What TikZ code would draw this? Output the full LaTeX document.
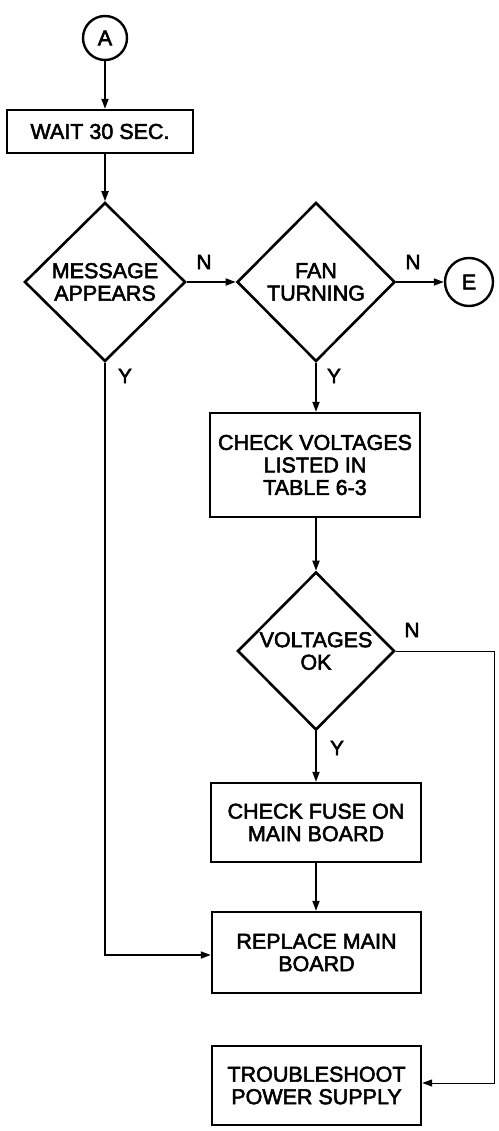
\documentclass[tikz,border=0pt]{standalone}
\usepackage{fontspec}
\setmainfont{Liberation Sans}[FakeBold=2.5]
\usetikzlibrary{shapes.geometric, arrows.meta}
\tikzset{
 txt/.style={font=\fontsize{21.5}{22.5}\selectfont, align=center},
 box/.style={txt, draw, line width=2.4pt, inner sep=0pt},
 dia/.style={txt, draw, diamond, line width=2.6pt, inner sep=0pt},
 circ/.style={txt, draw, circle, line width=2.4pt, inner sep=0pt},
 arr/.style={line width=1.8pt, -{Triangle[length=10pt,width=7pt]}},
 thinarr/.style={line width=1pt, -{Triangle[length=10pt,width=7pt]}},
 lbl/.style={font=\fontsize{21}{22}\selectfont, inner sep=0pt}
}
\begin{document}
\begin{tikzpicture}[x=1pt,y=-1pt]
\useasboundingbox (0,0) rectangle (498,1131);
\node[circ, minimum size=44pt] (A) at (105,38) {A};
\node[box, minimum width=186pt, minimum height=43pt] (wait) at (100,131.5) {WAIT 30 SEC.};
\node[dia, minimum width=161pt, minimum height=159pt] (msg) at (105,282) {MESSAGE\\APPEARS};
\node[dia, minimum width=158pt, minimum height=159pt] (fan) at (316,282) {FAN\\TURNING};
\node[circ, minimum size=48pt] (E) at (469,282) {E};
\node[box, minimum width=210pt, minimum height=104pt] (chk) at (315,465) {CHECK VOLTAGES\\LISTED IN\\TABLE 6-3};
\node[dia, minimum width=157pt, minimum height=158pt] (vok) at (316,651) {VOLTAGES\\OK};
\node[box, minimum width=210pt, minimum height=79pt] (fuse) at (316,822.5) {CHECK FUSE ON\\MAIN BOARD};
\node[box, minimum width=209pt, minimum height=81pt] (rep) at (316.5,952.5) {REPLACE MAIN\\BOARD};
\node[box, minimum width=209pt, minimum height=79pt] (ts) at (316.5,1085.5) {TROUBLESHOOT\\POWER SUPPLY};
\coordinate (c1) at (105,955);
\coordinate (c2) at (494,651);
\coordinate (c3) at (494,1083);
\draw[arr] (A.south) -- (A.south |- wait.north);
\draw[arr] (msg.north |- wait.south) -- (msg.north);
\draw[arr] (msg.east) -- (fan.west);
\draw[arr] (fan.east) -- (E.west);
\draw[arr] (fan.south) -- (fan.south |- chk.north);
\draw[arr] (chk.south -| vok.north) -- (vok.north);
\draw[arr] (vok.south) -- (vok.south |- fuse.north);
\draw[arr] (fuse.south) -- (fuse.south |- rep.north);
\draw[arr] (msg.south) -- (c1) -- (rep.west |- c1);
\draw[thinarr] (vok.east) -- (c2) -- (c3) -- (ts.east |- c3);
\node[lbl] (n1) at (204,262) {N};
\node[lbl] (n2) at (413,262) {N};
\node[lbl] (n3) at (412,630) {N};
\node[lbl] (y1) at (125,376) {Y};
\node[lbl] (y2) at (334,376) {Y};
\node[lbl] (y3) at (337,748) {Y};
\end{tikzpicture}
\end{document}
